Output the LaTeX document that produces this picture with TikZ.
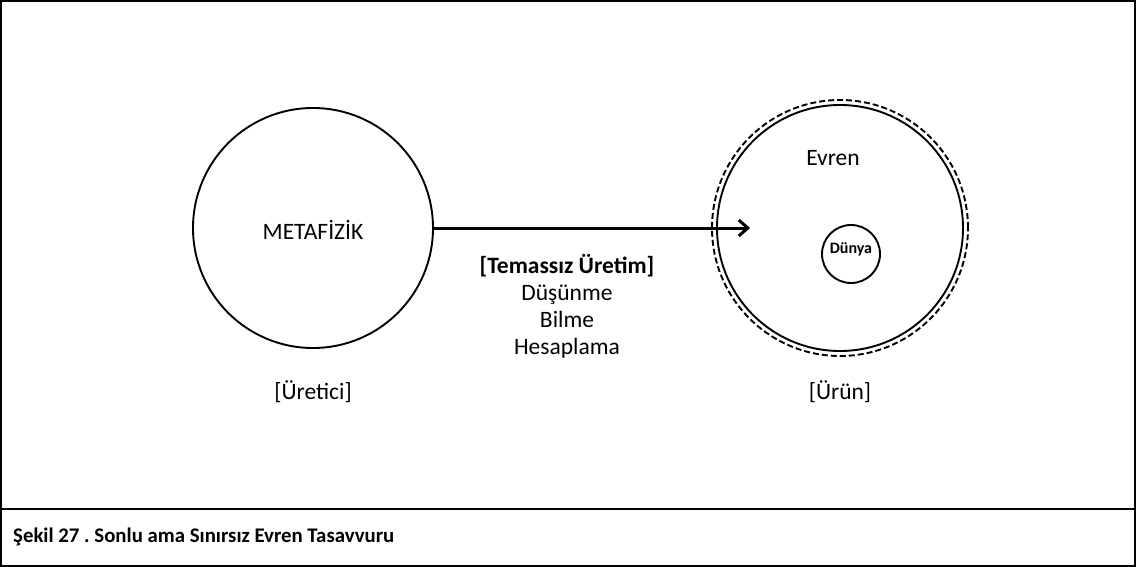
\documentclass[tikz,border=0pt]{standalone}
\usepackage{fontspec}
\setmainfont{Carlito}
\usetikzlibrary{arrows.meta}
\frenchspacing
\begin{document}
\begin{tikzpicture}[x=1pt,y=-1pt,
  lbl/.style={font=\fontsize{23.5}{28}\selectfont, inner sep=0pt},
  bl/.style={lbl, anchor=base},
  circ/.style={draw, circle, line width=1.9pt, inner sep=0pt},
  frame/.style={draw, line width=1.8pt}]
\useasboundingbox (0,0) rectangle (1136,567);
\draw[frame] (1,1) rectangle (1135,566);
\draw[frame] (1,509) -- (1135,509);
\node[anchor=west, font=\fontsize{20.8}{24}\selectfont\bfseries, inner sep=0pt] (cap) at (13,537) {Şekil 27 . Sonlu ama Sınırsız Evren Tasavvuru};
% left circle
\node[circ, minimum size=240pt] (meta) at (313,228) {};
\node[lbl] (metat) at (313,230) {METAFİZİK};
\node[lbl] (uretici) at (313,392) {[Üretici]};
% right circles
\node[circ, minimum size=246pt] (evren) at (840,228) {};
\node[draw, circle, dashed, dash pattern=on 6pt off 3pt, line width=1.9pt, minimum size=256pt, inner sep=0pt] (evrend) at (840,228) {};
\node[lbl] (evrent) at (833,158) {Evren};
\node[circ, minimum size=58pt] (dunya) at (851,254) {};
\node[font=\fontsize{16}{18}\selectfont\bfseries, inner sep=0pt, anchor=base] (dunyat) at (851,253) {Dünya};
\node[lbl] (urun) at (840,392) {[Ürün]};
% arrow
\coordinate (tip) at (750,228);
\draw[line width=3pt, -{Straight Barb[length=9pt,width=16pt,line width=3pt]}] (meta.east) -- (tip);
% middle text
\node[bl, font=\fontsize{23.5}{28}\selectfont\bfseries] (tem) at (567,273) {[Temassız Üretim]};
\node[bl] (dus) at (567,300) {Düşünme};
\node[bl] (bil) at (567,327) {Bilme};
\node[bl] (hes) at (567,354) {Hesaplama};
\end{tikzpicture}
\end{document}
